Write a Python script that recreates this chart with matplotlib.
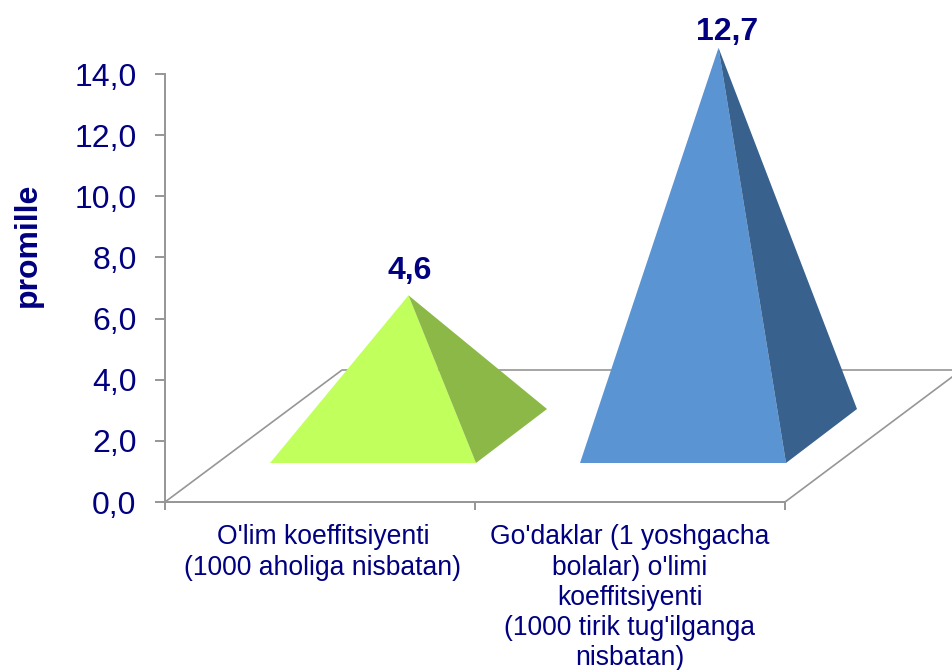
import matplotlib
matplotlib.use('Agg')
import matplotlib.pyplot as plt

categorias = ["O'lim koeffitsiyenti\n(1000 aholiga nisbatan)",
              "Go'daklar (1 yoshgacha\nbolalar) o'limi\nkoeffitsiyenti\n(1000 tirik tug'ilganga\nnisbatan)"]
valores = [4.6, 12.7]
rotulos = ['4,6', '12,7']
yticks = [0, 2, 4, 6, 8, 10, 12, 14]
ylabels = ['0,0', '2,0', '4,0', '6,0', '8,0', '10,0', '12,0', '14,0']
cores_frente = ['#C0FF5C', '#5B94D3']
cores_lado = ['#8CB847', '#39618D']

azul = '#000080'
cinza = '#969696'
plt.rcParams['font.family'] = ['Liberation Sans', 'DejaVu Sans']

W, H = 952, 670
fig = plt.figure(figsize=(W / 100, H / 100), dpi=100)
ax = fig.add_axes([165 / W, 1 - 502 / H, 620 / W, 428 / H])
ax.set_xlim(0, 2)
ax.set_ylim(0, 14)

# unidades do eixo por pixel
px = 2 / 620
py = 14 / 428

# chao
dx, dy = 177 * px, 132 * py
ax.plot([0, dx, 2 + 167 * px], [0, dy, dy], color=cinza, lw=1.2, clip_on=False)
ax.plot([2, 2 + 167 * px], [0, 125 * py], color=cinza, lw=1.2, clip_on=False)

# deslocamento dos rotulos em pixels
desloc_x = [1, 9]
desloc_y = [24, 16]
centro_cat = [323, 630]

# piramides
for i in range(2):
    esq = i + 105 * px
    dir_ = i + 311 * px
    base = 39 * py
    fundo = 54 * py
    prof = 71 * px
    topo_x = (esq + dir_ + prof) / 2
    topo_y = base + fundo / 2 + valores[i]
    ax.fill([esq, dir_, topo_x], [base, base, topo_y], color=cores_frente[i], lw=0, clip_on=False, zorder=3)
    ax.fill([dir_, dir_ + prof, topo_x], [base, base + fundo, topo_y], color=cores_lado[i], lw=0, clip_on=False, zorder=3)
    ax.text(topo_x + desloc_x[i] * px, topo_y + desloc_y[i] * py, rotulos[i], ha='center', va='center',
            fontsize=23, fontweight='bold', color=azul, clip_on=False)

for s in ['top', 'right']:
    ax.spines[s].set_visible(False)
for s in ['left', 'bottom']:
    ax.spines[s].set_color(cinza)
    ax.spines[s].set_linewidth(1.4)

ax.set_yticks(yticks)
ax.set_yticklabels(ylabels)
ax.tick_params(axis='y', labelsize=23, labelcolor=azul, color=cinza, width=1.4, length=7.2, pad=13.3)
ax.set_xticks([0, 1, 2])
ax.set_xticklabels([])
ax.tick_params(axis='x', color=cinza, width=1.4, length=6)

# rotulos das categorias
for i, c in enumerate(categorias):
    ax.text((centro_cat[i] - 165) * px, -22.5 * py, c, ha='center', va='top', fontsize=19.1,
            color=azul, linespacing=1.21, clip_on=False)

fig.text(28 / W, 1 - 245 / H, 'promille', rotation=90, ha='center', va='center',
         fontsize=23, fontweight='bold', color=azul)

fig.savefig('out.png', dpi=100)
